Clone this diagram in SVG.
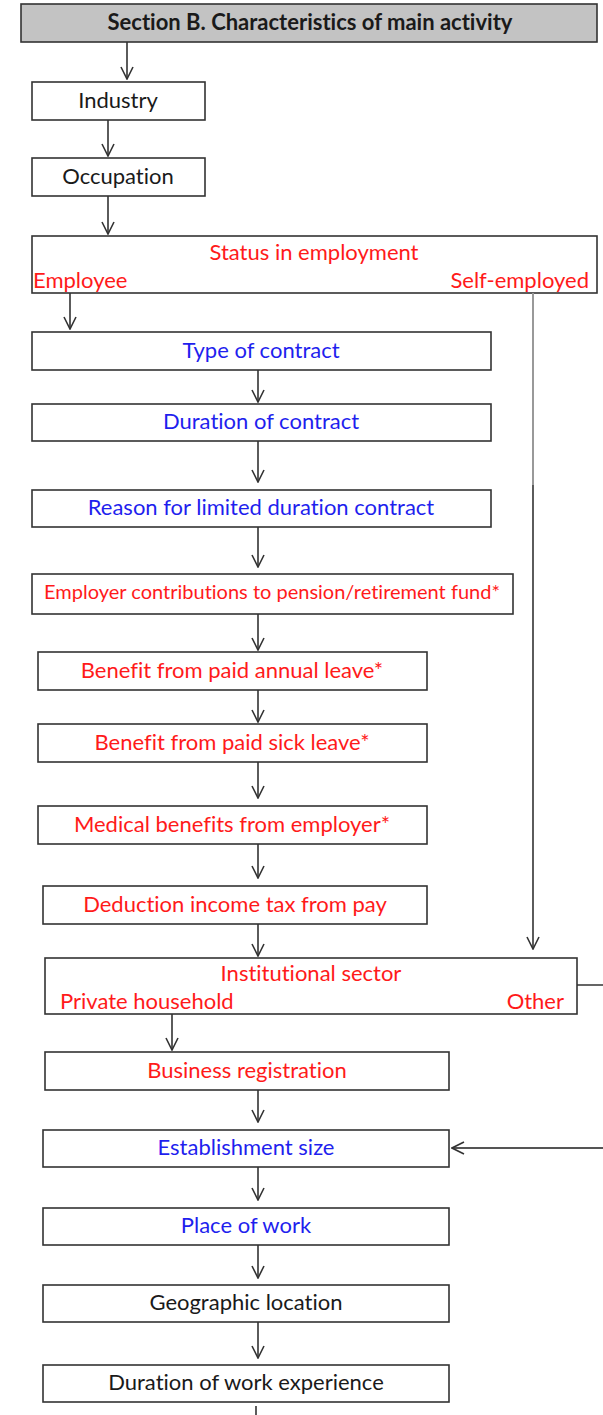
<svg xmlns="http://www.w3.org/2000/svg" width="603" height="1415" viewBox="0 0 603 1415">
<defs>
<style>
.box{fill:#fff;stroke:#333;stroke-width:1.6}
.hdr{fill:#c3c3c3;stroke:#333;stroke-width:1.6}
text{font-family:Lato,"Open Sans","Liberation Sans",sans-serif;font-size:22px;font-variant-ligatures:none}
.c{text-anchor:middle}
.r{text-anchor:end}
.red{fill:#ff1a1a}
.blue{fill:#1f1fee}
.blk{fill:#1a1a1a}
.sm{font-size:20px}
.ln{fill:none;stroke:#333;stroke-width:1.6}
.gr{fill:none;stroke:#999;stroke-width:2}
.dg{fill:none;stroke:#555;stroke-width:2}
</style>
<marker id="ah" viewBox="0 0 14 14" refX="13" refY="7" markerWidth="14" markerHeight="14" markerUnits="userSpaceOnUse" orient="auto">
<path d="M1,1 L13,7 L1,13" fill="none" stroke="#333" stroke-width="1.6"/>
</marker>
</defs>

<g id="header"><rect class="hdr" x="21" y="4" width="576" height="38"/><text class="c blk" x="310" y="30" font-weight="bold">Section B. Characteristics of main activity</text></g>
<g id="industry"><rect class="box" x="32" y="82" width="173" height="38"/><text class="c blk" x="118" y="108">Industry</text></g>
<g id="occupation"><rect class="box" x="32" y="158" width="173" height="38"/><text class="c blk" x="118" y="184">Occupation</text></g>
<g id="status"><rect class="box" x="32" y="236" width="565" height="57"/><text class="c red" x="314" y="260">Status in employment</text><text class="red" x="33" y="288">Employee</text><text class="r red" x="589" y="288">Self-employed</text></g>
<g id="type"><rect class="box" x="32" y="332" width="459" height="38"/><text class="c blue" x="261" y="358">Type of contract</text></g>
<g id="duration"><rect class="box" x="32" y="404" width="459" height="37"/><text class="c blue" x="261" y="429">Duration of contract</text></g>
<g id="reason"><rect class="box" x="32" y="490" width="459" height="37"/><text class="c blue" x="261" y="515">Reason for limited duration contract</text></g>
<g id="pension"><rect class="box" x="32" y="574" width="481" height="40"/><text class="c red sm" x="272" y="599">Employer contributions to pension/retirement fund*</text></g>
<g id="annual"><rect class="box" x="38" y="652" width="389" height="38"/><text class="c red" x="232" y="678">Benefit from paid annual leave*</text></g>
<g id="sick"><rect class="box" x="38" y="724" width="389" height="38"/><text class="c red" x="232" y="750">Benefit from paid sick leave*</text></g>
<g id="medical"><rect class="box" x="38" y="806" width="389" height="38"/><text class="c red" x="232" y="832">Medical benefits from employer*</text></g>
<g id="tax"><rect class="box" x="43" y="886" width="384" height="38"/><text class="c red" x="235" y="912">Deduction income tax from pay</text></g>
<g id="institutional"><rect class="box" x="45" y="958" width="532" height="56"/><text class="c red" x="311" y="981">Institutional sector</text><text class="red" x="60" y="1009">Private household</text><text class="r red" x="564" y="1009">Other</text></g>
<g id="registration"><rect class="box" x="45" y="1052" width="404" height="38"/><text class="c red" x="247" y="1078">Business registration</text></g>
<g id="estsize"><rect class="box" x="43" y="1130" width="406" height="37"/><text class="c blue" x="246" y="1155">Establishment size</text></g>
<g id="place"><rect class="box" x="43" y="1208" width="406" height="37"/><text class="c blue" x="246" y="1233">Place of work</text></g>
<g id="geo"><rect class="box" x="43" y="1285" width="406" height="37"/><text class="c blk" x="246" y="1310">Geographic location</text></g>
<g id="experience"><rect class="box" x="43" y="1365" width="406" height="37"/><text class="c blk" x="246" y="1390">Duration of work experience</text></g>

<g id="connectors">
<line class="ln" x1="127" y1="42" x2="127" y2="79" marker-end="url(#ah)"/>
<line class="ln" x1="108" y1="120" x2="108" y2="156" marker-end="url(#ah)"/>
<line class="ln" x1="108" y1="196" x2="108" y2="234" marker-end="url(#ah)"/>
<line class="ln" x1="70" y1="293" x2="70" y2="329" marker-end="url(#ah)"/>
<line class="gr" x1="533" y1="293" x2="533" y2="485"/>
<line class="ln" x1="533" y1="485" x2="533" y2="949" marker-end="url(#ah)"/>
<line class="ln" x1="258" y1="370" x2="258" y2="402" marker-end="url(#ah)"/>
<line class="ln" x1="258" y1="441" x2="258" y2="482" marker-end="url(#ah)"/>
<line class="ln" x1="258" y1="527" x2="258" y2="567" marker-end="url(#ah)"/>
<line class="ln" x1="258" y1="614" x2="258" y2="650" marker-end="url(#ah)"/>
<line class="ln" x1="258" y1="690" x2="258" y2="722" marker-end="url(#ah)"/>
<line class="ln" x1="258" y1="762" x2="258" y2="798" marker-end="url(#ah)"/>
<line class="ln" x1="258" y1="844" x2="258" y2="878" marker-end="url(#ah)"/>
<line class="ln" x1="258" y1="924" x2="258" y2="956" marker-end="url(#ah)"/>
<line class="ln" x1="172" y1="1014" x2="172" y2="1050" marker-end="url(#ah)"/>
<line class="ln" x1="258" y1="1090" x2="258" y2="1122" marker-end="url(#ah)"/>
<line class="ln" x1="258" y1="1167" x2="258" y2="1200" marker-end="url(#ah)"/>
<line class="ln" x1="258" y1="1245" x2="258" y2="1278" marker-end="url(#ah)"/>
<line class="ln" x1="258" y1="1322" x2="258" y2="1358" marker-end="url(#ah)"/>
<line class="ln" x1="256" y1="1406" x2="256" y2="1415"/>
<polyline class="ln" points="577,985 606,985 606,1148"/>
<line class="dg" x1="606" y1="1148" x2="452" y2="1148" marker-end="url(#ah)"/>
</g>
</svg>
